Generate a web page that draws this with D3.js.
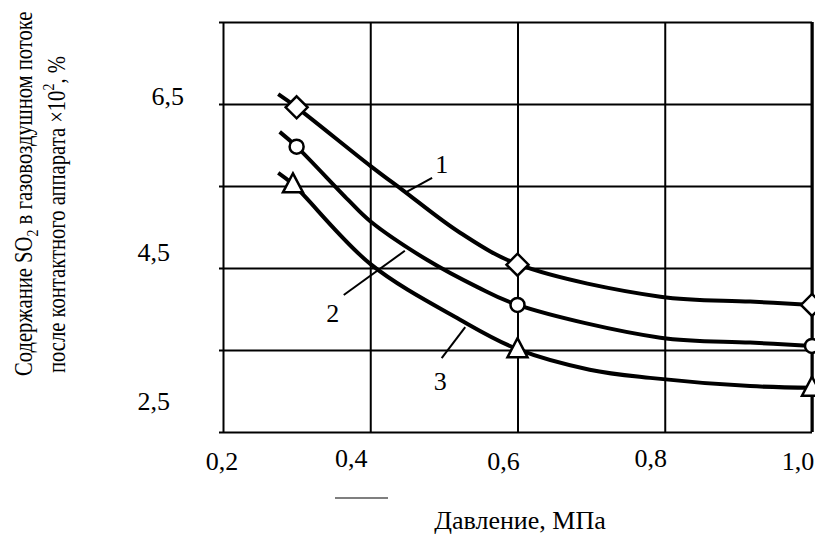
<!DOCTYPE html>
<html>
<head>
<meta charset="utf-8">
<script src="https://cdn.jsdelivr.net/npm/d3@7"></script>
<style>
  body { margin: 0; background: #fff; }
  text { font-family: "Liberation Serif", "Times New Roman", serif; fill: #000; }
</style>
</head>
<body>
<div id="chart"></div>
<script>
// values
var pressure1 = [0.275, 0.3, 0.401, 0.444, 0.522, 0.602, 0.794, 0.916, 1.0];
var so2Curve1 = [6.62, 6.46, 5.74, 5.45, 4.93, 4.54, 4.15, 4.09, 4.05];

var pressure2 = [0.277, 0.3, 0.37, 0.4, 0.477, 0.545, 0.6, 0.794, 0.916, 1.0];
var so2Curve2 = [6.16, 5.98, 5.33, 5.07, 4.60, 4.27, 4.05, 3.65, 3.59, 3.55];

var pressure3 = [0.275, 0.295, 0.4, 0.522, 0.6, 0.698, 0.78, 0.916, 1.0];
var so2Curve3 = [5.66, 5.52, 4.55, 3.87, 3.51, 3.26, 3.16, 3.06, 3.04];

// measured points (markers)
var diamondX = [0.3, 0.6, 1.0], diamondY = [6.46, 4.54, 4.05];
var circleX = [0.3, 0.6, 1.0], circleY = [5.98, 4.05, 3.55];
var triangleX = [0.295, 0.6, 1.0], triangleY = [5.52, 3.51, 3.04];

var xTicks = [0.2, 0.4, 0.6, 0.8, 1.0];
var xTickLabels = ["0,2", "0,4", "0,6", "0,8", "1,0"];
var yGrid = [2.5, 3.5, 4.5, 5.5, 6.5, 7.5];
var yTicks = [6.5, 4.5, 2.5];
var yTickLabels = ["6,5", "4,5", "2,5"];

var curveNames = ["1", "2", "3"];

// layout
var svgWidth = 815, svgHeight = 534;
var margin = {top: 22, left: 223, right: 3, bottom: 102};
var chartWidth = svgWidth - margin.left - margin.right,
    chartHeight = svgHeight - margin.top - margin.bottom;

// little hand offsets of tick labels (the original is hand-drawn)
var xLabelShift = [[-1, 38], [-19, 35], [-14, 38], [-14, 35], [-14, 38]];
var yLabelShift = [[-39, 1], [-53, -7], [-53, -22]];
// leader line ends and number positions, in data units
var leaders = [
    {from: [0.450, 5.43], to: [0.484, 5.60], text: [0.497, 5.66]},
    {from: [0.364, 4.17], to: [0.447, 4.71], text: [0.349, 3.84]},
    {from: [0.497, 3.40], to: [0.529, 3.78], text: [0.495, 3.01]}
];

var svg = d3.select("#chart").append("svg")
    .attr("width", svgWidth).attr("height", svgHeight);

var chartGroup = svg.append("g")
    .attr("transform", `translate(${margin.left}, ${margin.top})`);

var xScale = d3.scaleLinear().domain([0.2, 1.0]).range([0, chartWidth]);
var yScale = d3.scaleLinear().domain([2.5, 7.5]).range([chartHeight, 0]);

// horizontal grid, sticking a bit out on the left
chartGroup.append("g")
    .attr("transform", "translate(-4, 0)")
    .call(d3.axisLeft(yScale).tickValues(yGrid).tickSize(-(chartWidth + 4)).tickFormat(""))
    .call(g => g.select(".domain").remove())
    .selectAll("line").attr("stroke", "#000").attr("stroke-width", 2);

// vertical grid
chartGroup.append("g")
    .attr("transform", `translate(0, ${chartHeight})`)
    .call(d3.axisBottom(xScale).tickValues(xTicks).tickSize(-chartHeight).tickFormat(""))
    .call(g => g.select(".domain").remove())
    .selectAll("line").attr("stroke", "#000").attr("stroke-width", 2);

// right edge of the frame is a bit heavier
chartGroup.append("line")
    .attr("x1", xScale(1.0)).attr("x2", xScale(1.0))
    .attr("y1", yScale(7.5)).attr("y2", yScale(2.5))
    .attr("stroke", "#000").attr("stroke-width", 3);

// tick labels
chartGroup.append("g").selectAll("text")
    .data(xTicks).enter().append("text")
    .attr("x", (d, i) => xScale(d) + xLabelShift[i][0])
    .attr("y", (d, i) => chartHeight + xLabelShift[i][1])
    .attr("text-anchor", "middle")
    .attr("font-size", 26)
    .text((d, i) => xTickLabels[i]);

chartGroup.append("g").selectAll("text")
    .data(yTicks).enter().append("text")
    .attr("x", (d, i) => yLabelShift[i][0])
    .attr("y", (d, i) => yScale(d) + yLabelShift[i][1])
    .attr("text-anchor", "end")
    .attr("font-size", 26)
    .text((d, i) => yTickLabels[i]);

// curves
var line = d3.line()
    .x(d => xScale(d[0]))
    .y(d => yScale(d[1]))
    .curve(d3.curveCatmullRom.alpha(0.5));

[[pressure1, so2Curve1], [pressure2, so2Curve2], [pressure3, so2Curve3]].forEach(function(c) {
    chartGroup.append("path")
        .datum(d3.zip(c[0], c[1]))
        .attr("d", line)
        .attr("fill", "none")
        .attr("stroke", "#000")
        .attr("stroke-width", 4);
});

// leader lines and curve numbers
leaders.forEach(function(l, i) {
    chartGroup.append("line")
        .attr("x1", xScale(l.from[0])).attr("y1", yScale(l.from[1]))
        .attr("x2", xScale(l.to[0])).attr("y2", yScale(l.to[1]))
        .attr("stroke", "#000").attr("stroke-width", 2);
    chartGroup.append("text")
        .attr("x", xScale(l.text[0])).attr("y", yScale(l.text[1]))
        .attr("text-anchor", "middle")
        .attr("font-size", 26)
        .text(curveNames[i]);
});

// markers
chartGroup.append("g").selectAll("path")
    .data(d3.zip(diamondX, diamondY)).enter().append("path")
    .attr("transform", d => `translate(${xScale(d[0])}, ${yScale(d[1])})`)
    .attr("d", "M0,-11L11,0L0,11L-11,0Z")
    .attr("fill", "#fff").attr("stroke", "#000").attr("stroke-width", 2.5);

chartGroup.append("g").selectAll("circle")
    .data(d3.zip(circleX, circleY)).enter().append("circle")
    .attr("cx", d => xScale(d[0]))
    .attr("cy", d => yScale(d[1]))
    .attr("r", 7)
    .attr("fill", "#fff").attr("stroke", "#000").attr("stroke-width", 2.5);

chartGroup.append("g").selectAll("path")
    .data(d3.zip(triangleX, triangleY)).enter().append("path")
    .attr("transform", d => `translate(${xScale(d[0])}, ${yScale(d[1])})`)
    .attr("d", "M0,-11L10,8L-10,8Z")
    .attr("fill", "#fff").attr("stroke", "#000").attr("stroke-width", 2.5);

// x axis title with the short stroke above it
svg.append("line")
    .attr("x1", 335).attr("x2", 388)
    .attr("y1", 498).attr("y2", 498)
    .attr("stroke", "#000").attr("stroke-width", 1.2);

svg.append("text")
    .attr("x", 520).attr("y", 529)
    .attr("text-anchor", "middle")
    .attr("font-size", 26)
    .text("Давление, МПа");

// y axis title, two rotated lines (glyphs a little taller than wide, as in the scan)
var yTitle1 = svg.append("text")
    .attr("transform", "translate(32, 376) rotate(-90) scale(1, 1.2)")
    .attr("font-size", 20.6);
yTitle1.append("tspan").text("Содержание SO");
yTitle1.append("tspan").attr("font-size", 14).attr("dy", 5).text("2");
yTitle1.append("tspan").attr("dy", -5).text(" в газовоздушном потоке");

var yTitle2 = svg.append("text")
    .attr("transform", "translate(65, 373) rotate(-90) scale(1, 1.2)")
    .attr("font-size", 20.6);
yTitle2.append("tspan").text("после контактного аппарата ×10");
yTitle2.append("tspan").attr("font-size", 14).attr("dy", -9).text("2");
yTitle2.append("tspan").attr("dy", 9).text(", %");
</script>
</body>
</html>
